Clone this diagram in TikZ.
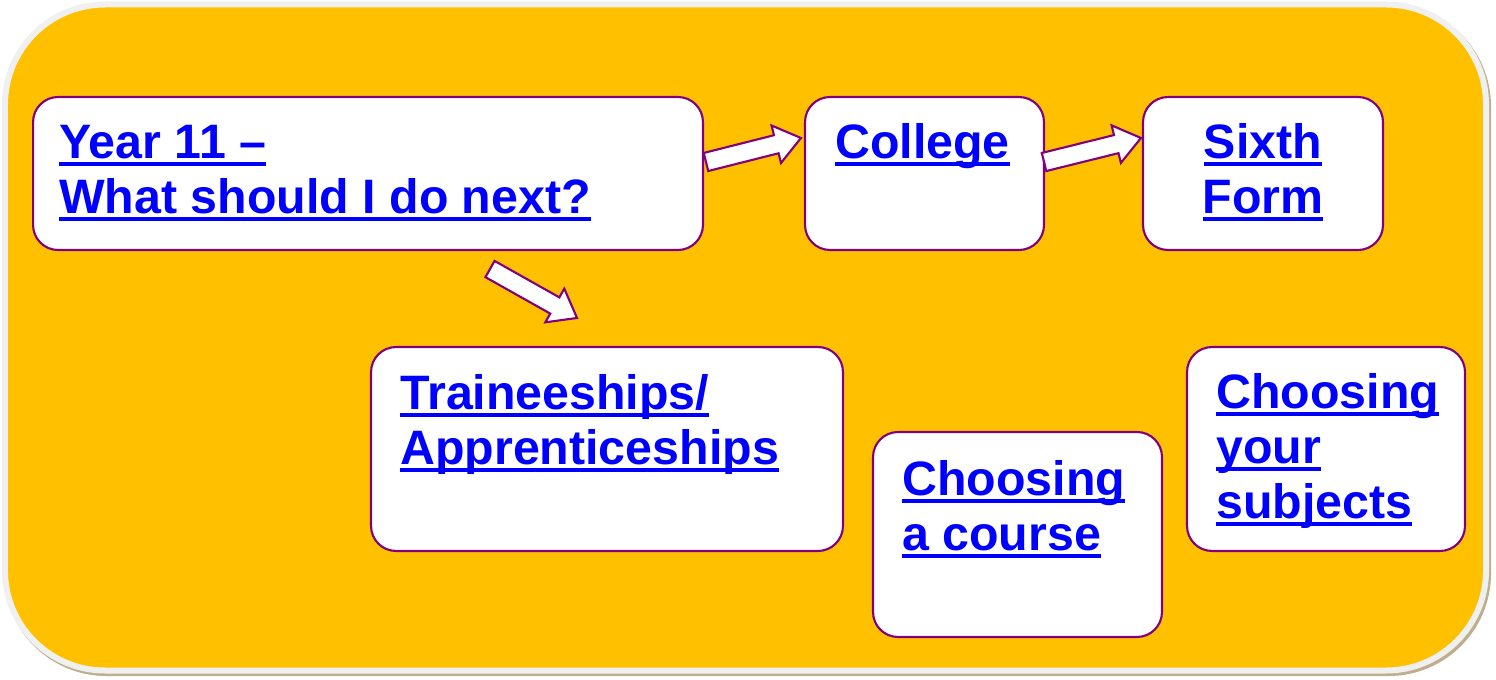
\documentclass[tikz,border=0pt]{standalone}
\usepackage{fontspec}
\setmainfont{Liberation Sans}
\usetikzlibrary{calc, positioning}
\definecolor{Amber}{RGB}{255,192,0}
\definecolor{Rim}{RGB}{240,240,240}
\definecolor{RimShadow}{RGB}{190,175,140}
\definecolor{Plum}{RGB}{128,0,128}
\definecolor{LinkBlue}{RGB}{0,0,255}
\newsavebox{\lnkbox}
\newcommand{\lnk}[1]{\sbox{\lnkbox}{#1}\rlap{\rule[-4pt]{\wd\lnkbox}{2.2pt}}\usebox{\lnkbox}}
% block arrow from tail (#1) to tip (#2)
\newcommand{\blockarrow}[2]{%
  \coordinate (hd) at ($(#2)!14.5pt!(#1)$);
  \filldraw[blockarr]
      ($(#1)!5.3pt!90:(#2)$)
      -- ($(hd)!5.3pt!90:(#2)$)
      -- ($(hd)!11pt!90:(#2)$)
      -- (#2)
      -- ($(hd)!11pt!-90:(#2)$)
      -- ($(hd)!5.3pt!-90:(#2)$)
      -- ($(#1)!5.3pt!-90:(#2)$)
      -- cycle;}
\tikzset{
  stepbox/.style={draw=Plum, line width=1.2pt, fill=white, rounded corners=0.5cm, inner sep=0pt},
  linktext/.style={text=LinkBlue, font=\fontsize{27.5pt}{31.3pt}\selectfont\bfseries, inner sep=0pt},
  blockarr/.style={draw=Plum, line width=1.2pt, fill=white, line join=miter}
}
\begin{document}
\begin{tikzpicture}[x=0.02cm, y=-0.02cm]

    \useasboundingbox (0,0) rectangle (1496,679);

    % amber panel
        \fill[RimShadow, rounded corners=2.05cm] (4,4) rectangle (1491,676);
        \filldraw[
        draw=Rim, fill=Amber, line width=0.12cm, rounded corners=2cm]
            (5,4.5) rectangle (1486,670.5);

    % boxes
    \node[stepbox, minimum width=13.4cm, minimum height=3.06cm] (year) at (368,173.5) {};
    \node[stepbox, minimum width=4.78cm, minimum height=3.06cm] (college) at (924.5,173.5) {};
    \node[stepbox, minimum width=4.8cm, minimum height=3.06cm] (sixth) at (1263,173.5) {};
    \node[stepbox, minimum width=9.44cm, minimum height=4.08cm] (train) at (607,449) {};
    \node[stepbox, minimum width=5.78cm, minimum height=4.1cm] (course) at (1017.5,534.5) {};
    \node[stepbox, minimum width=5.56cm, minimum height=4.08cm] (subjects) at (1326,449) {};

    % link texts (base = last line)
    \node[linktext, align=left, anchor=base west] (yeartxt) at ($(year.north west)+(27,118)$)
        {\lnk{Year 11 –}\\\lnk{What should I do next?}};
    \node[linktext, align=left, anchor=base west] (collegetxt) at ($(college.north west)+(31,63)$)
        {\lnk{College}};
    \node[linktext, align=center, anchor=base] (sixthtxt) at ($(sixth.north)+(0,118)$)
        {\lnk{Sixth}\\\lnk{Form}};
    \node[linktext, align=left, anchor=base west] (traintxt) at ($(train.north west)+(30,119)$)
        {\lnk{Traineeships/}\\\lnk{Apprenticeships}};
    \node[linktext, align=left, anchor=base west] (coursetxt) at ($(course.north west)+(30,120)$)
        {\lnk{Choosing}\\\lnk{a course}};
    \node[linktext, align=left, anchor=base west] (subjectstxt) at ($(subjects.north west)+(30,173)$)
        {\lnk{Choosing}\\\lnk{your}\\\lnk{subjects}};

    % arrows
    \coordinate (a1s) at ($(year.east)+(2,-11.5)$);
    \coordinate (a1e) at ($(college.west)+(-3,-35.5)$);
    \coordinate (a2s) at ($(college.east)+(-1,-11.5)$);
    \coordinate (a2e) at ($(sixth.west)+(-1,-35.5)$);
    \coordinate (a3s) at ($(year.south)+(122,18)$);
    \coordinate (a3e) at ($(train.north)+(-30,-28)$);
    \blockarrow{a1s}{a1e}
    \blockarrow{a2s}{a2e}
    \blockarrow{a3s}{a3e}

\end{tikzpicture}
\end{document}
